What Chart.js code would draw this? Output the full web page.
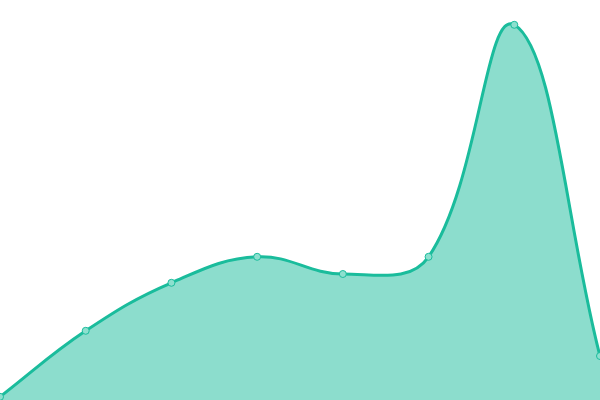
<!DOCTYPE html>
<html>
<head>
<meta charset="utf-8">
<script src="https://cdn.jsdelivr.net/npm/chart.js@4"></script>
<style>
  html, body { margin: 0; padding: 0; background: #fff; }
  #wrap { width: 600px; height: 400px; }
</style>
</head>
<body>
<div id="wrap"><canvas id="chartArea"></canvas></div>
<script>
// data (y scale 0..100)
const labels = ['1', '2', '3', '4', '5', '6', '7', '8'];
const values = [0.8, 17.3, 29.3, 35.8, 31.5, 35.8, 93.8, 11];
const yMin = 0;
const yMax = 100;

const ctx = document.getElementById('chartArea');
new Chart(ctx, {
    type: 'line',
    data: {
        labels: labels,
        datasets: [{
            data: values,
            borderColor: '#1abc9c',
            backgroundColor: 'rgba(26, 188, 156, 0.5)',
            borderWidth: 3,
            pointRadius: 3.5,
            pointBorderWidth: 1,
            pointBackgroundColor: '#8de0cf',
            pointBorderColor: '#1abc9c',
            fill: 'start',
            tension: 0.4
        }]
    },
    options: {
        responsive: true,
        maintainAspectRatio: false,
        animation: false,
        layout: { padding: 0, autoPadding: false },
        plugins: { legend: { display: false }, tooltip: { enabled: false } },
        scales: {
            x: { display: false, offset: false },
            y: { display: false, min: yMin, max: yMax }
        }
    }
});
</script>
</body>
</html>
